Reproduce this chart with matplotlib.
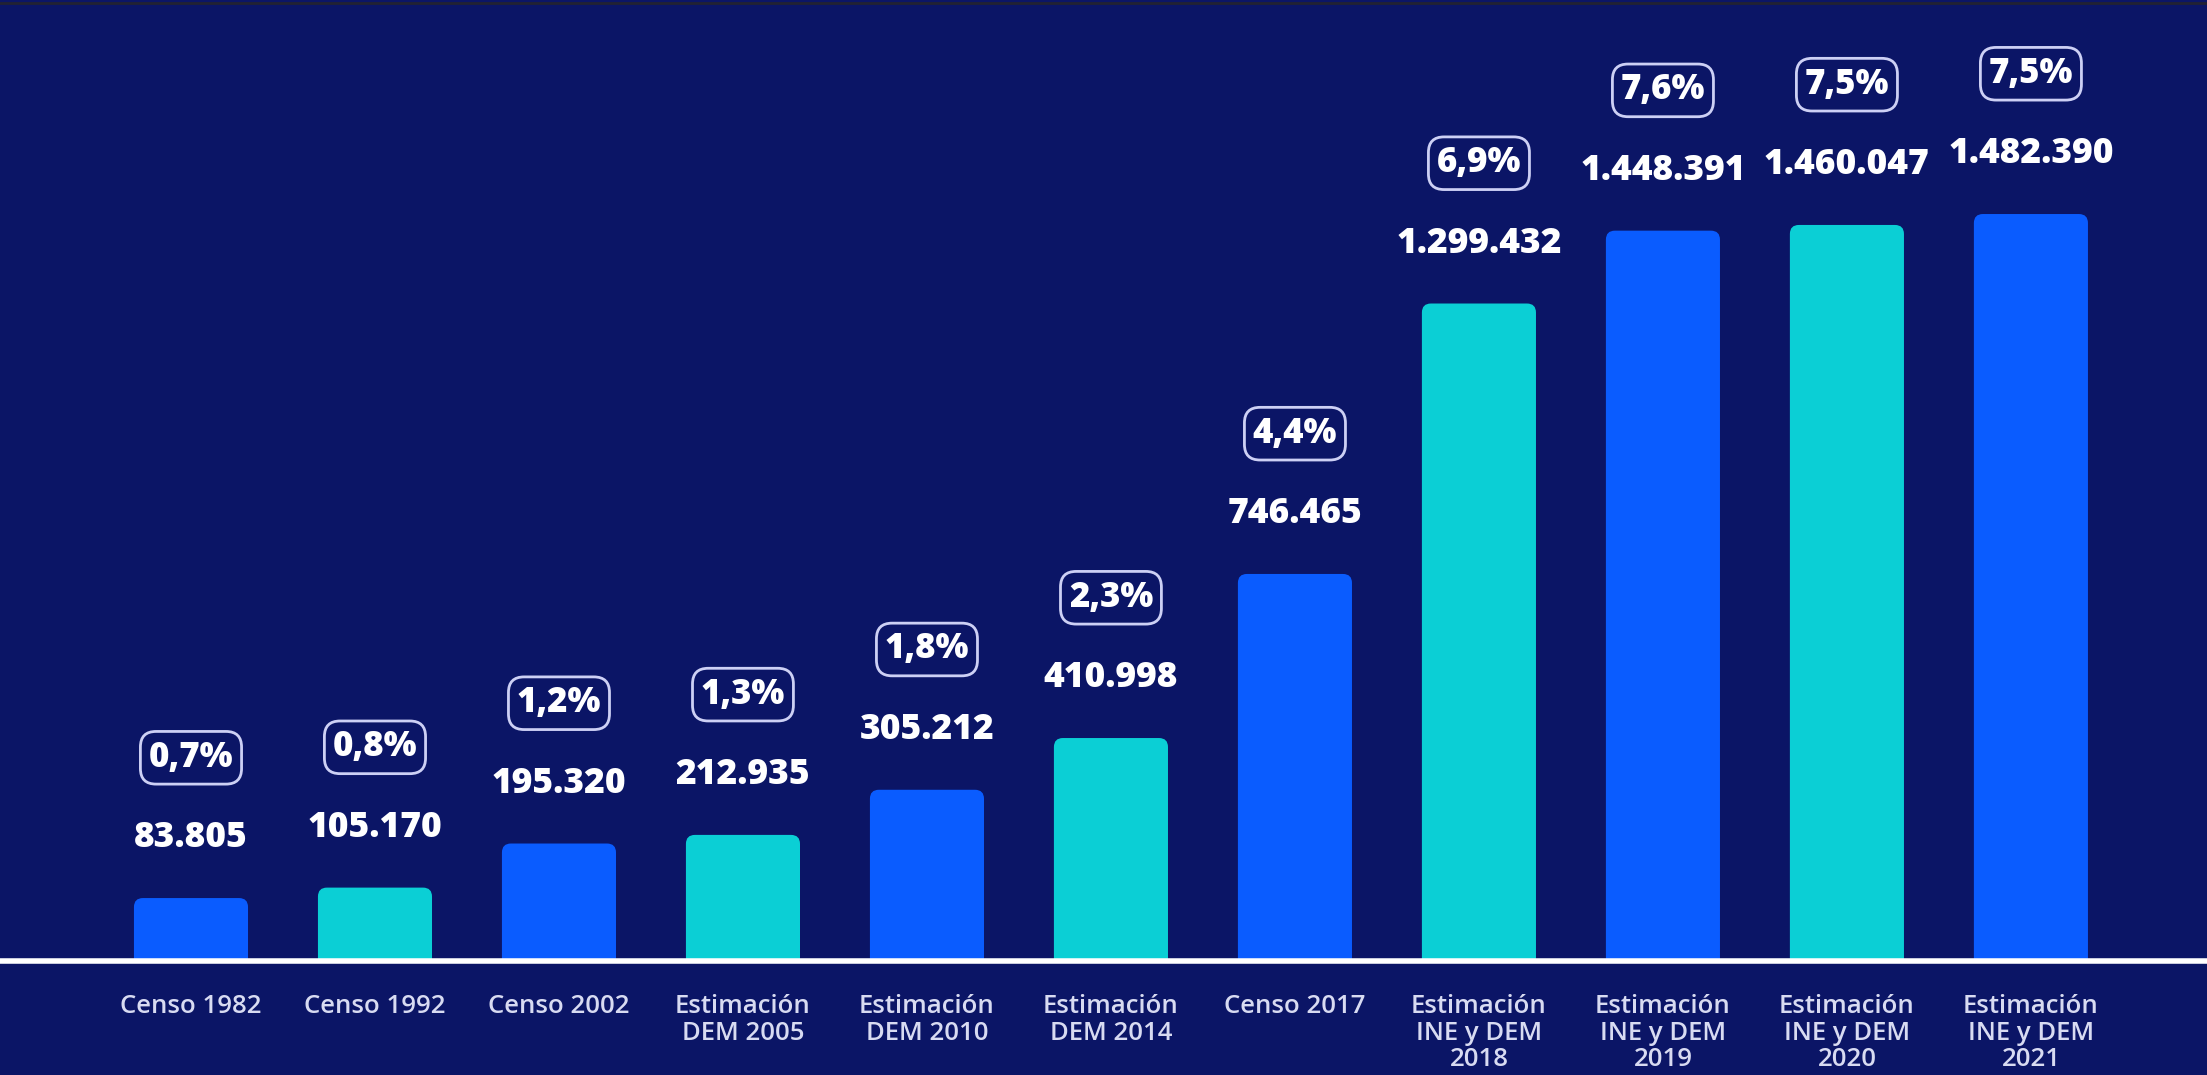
import matplotlib.pyplot as plt
from matplotlib.patches import FancyBboxPatch
from matplotlib.lines import Line2D
import numpy as np

plt.rcParams['font.family'] = ['Open Sans', 'DejaVu Sans']

categories = ['Censo 1982', 'Censo 1992', 'Censo 2002', 'Estimación\nDEM 2005',
              'Estimación\nDEM 2010', 'Estimación\nDEM 2014', 'Censo 2017',
              'Estimación\nINE y DEM\n2018', 'Estimación\nINE y DEM\n2019',
              'Estimación\nINE y DEM\n2020', 'Estimación\nINE y DEM\n2021']
population = [83805, 105170, 195320, 212935, 305212, 410998, 746465,
              1299432, 1448391, 1460047, 1482390]
pct_labels = ['0,7%', '0,8%', '1,2%', '1,3%', '1,8%', '2,3%', '4,4%',
              '6,9%', '7,6%', '7,5%', '7,5%']

bg = '#0b1566'
blue = '#0a5cff'
cyan = '#0bcfd5'
bar_colors = [blue if i % 2 == 0 else cyan for i in range(len(population))]

y_floor = -45000
y_top = 1920000

fig = plt.figure(figsize=(22.07, 10.75), dpi=100, facecolor=bg)
ax = fig.add_axes([0, 0.106, 1, 0.894], facecolor=bg)
ax.set_xlim(-1.038, 10.957)
ax.set_ylim(y_floor, y_top)

x = np.arange(len(population))
pop = np.array(population)
extra = 40000  # push bar bottoms below the axis so only the tops are rounded
bars = ax.bar(x, pop - y_floor + extra, bottom=y_floor - extra, width=0.62, color=bar_colors)

# swap plain bars for rounded ones
fig_w_px = fig.get_figwidth() * fig.dpi
fig_h_px = fig.get_figheight() * fig.dpi
x_per_px = (ax.get_xlim()[1] - ax.get_xlim()[0]) / (fig_w_px * 1.0)
y_per_px = (ax.get_ylim()[1] - ax.get_ylim()[0]) / (fig_h_px * 0.894)
aspect = y_per_px / x_per_px
for b in bars:
    rb = FancyBboxPatch((b.get_x(), b.get_y()), b.get_width(), b.get_height(),
                        boxstyle="round,pad=0,rounding_size=%f" % (9 * x_per_px),
                        mutation_aspect=aspect, facecolor=b.get_facecolor(),
                        edgecolor='none', zorder=1)
    ax.add_patch(rb)
    b.remove()

for xi, v, p in zip(x, population, pct_labels):
    ax.annotate(f"{v:,}".replace(',', '.'), xy=(xi, v), xytext=(0, 43),
                textcoords='offset points', ha='center', va='center',
                fontsize=25.5, fontweight='heavy', color='white')
    ax.annotate(p, xy=(xi, v), xytext=(0, 101), textcoords='offset points',
                ha='center', va='center', fontsize=25, fontweight='heavy', color='white',
                bbox=dict(boxstyle='round,pad=0.24,rounding_size=0.45', facecolor=bg,
                          edgecolor='#cdd0f5', linewidth=2))

ax.set_xticks(x)
ax.set_xticklabels(categories, fontsize=18.5, fontweight='semibold', color='#d8dbf2',
                   linespacing=1.08)
ax.tick_params(axis='x', length=0, pad=24)
ax.set_yticks([])
for s in ['top', 'left', 'right']:
    ax.spines[s].set_visible(False)
ax.spines['bottom'].set_color('white')
ax.spines['bottom'].set_linewidth(4)

fig.add_artist(Line2D([0, 1], [0.997, 0.997], color='#222233', linewidth=2))

fig.savefig('out.png', dpi=100, facecolor=bg)
